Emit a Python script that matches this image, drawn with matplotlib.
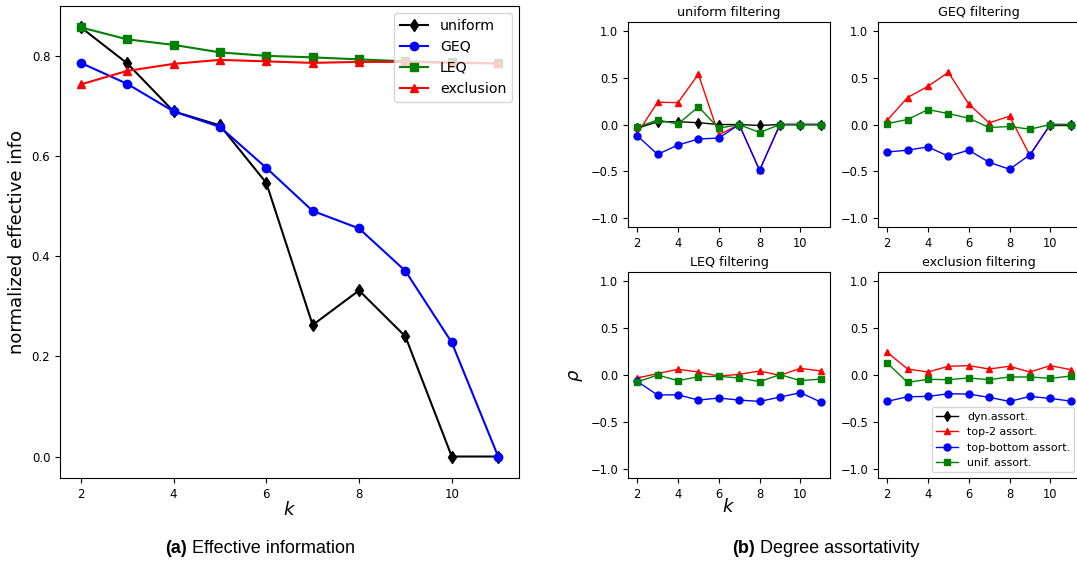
import matplotlib.pyplot as plt
import numpy as np

nan = np.nan
k = [2, 3, 4, 5, 6, 7, 8, 9, 10, 11]

# effective information per filtering scheme
ei_uniform = [0.858, 0.786, 0.690, 0.662, 0.547, 0.263, 0.332, 0.240, 0.0, 0.0]
ei_geq = [0.787, 0.745, 0.690, 0.659, 0.577, 0.491, 0.456, 0.371, 0.228, 0.0]
ei_leq = [0.858, 0.834, 0.823, 0.808, 0.801, 0.798, 0.794, 0.790, 0.788, 0.786]
ei_exclusion = [0.744, 0.771, 0.785, 0.793, 0.790, 0.787, 0.789, 0.789, 0.787, 0.786]

# degree assortativity, one dict per filtering scheme
assort_uniform = {
    "dyn": [-0.04, 0.03, 0.03, 0.02, 0.0, 0.0, -0.01, 0.0, 0.0, 0.0],
    "top2": [-0.10, 0.24, 0.235, 0.54, -0.11, 0.0, -0.49, 0.0, 0.0, 0.0],
    "topbottom": [-0.12, -0.32, -0.22, -0.155, -0.145, 0.0, -0.49, 0.0, 0.0, 0.0],
    "unif": [-0.03, 0.05, 0.005, 0.19, -0.04, 0.0, -0.086, 0.0, 0.0, 0.0],
}
assort_geq = {
    "dyn": [nan, nan, nan, nan, nan, nan, nan, nan, 0.0, 0.0],
    "top2": [0.045, 0.29, 0.41, 0.56, 0.22, 0.018, 0.09, -0.33, 0.0, 0.0],
    "topbottom": [-0.295, -0.275, -0.24, -0.34, -0.275, -0.405, -0.48, -0.325, 0.0, 0.0],
    "unif": [0.01, 0.054, 0.16, 0.118, 0.068, -0.032, -0.021, -0.05, 0.0, 0.0],
}
assort_leq = {
    "dyn": [nan] * 10,
    "top2": [-0.032, 0.015, 0.061, 0.032, -0.011, 0.007, 0.043, -0.004, 0.071, 0.043],
    "topbottom": [-0.068, -0.214, -0.211, -0.268, -0.246, -0.268, -0.282, -0.236, -0.189, -0.289],
    "unif": [-0.075, 0.0, -0.061, -0.018, -0.014, -0.032, -0.071, 0.004, -0.061, -0.043],
}
assort_exclusion = {
    "dyn": [nan] * 10,
    "top2": [0.243, 0.064, 0.032, 0.093, 0.10, 0.064, 0.093, 0.032, 0.10, 0.057],
    "topbottom": [-0.282, -0.232, -0.229, -0.20, -0.204, -0.239, -0.282, -0.229, -0.25, -0.279],
    "unif": [0.129, -0.079, -0.046, -0.05, -0.032, -0.05, -0.021, -0.021, -0.036, -0.011],
}

fig = plt.figure(figsize=(10.77, 5.62), dpi=100)

# (a) effective information
ax = fig.add_axes([0.0557, 0.1495, 0.4262, 0.840])
ax.plot(k, ei_uniform, "kd-", label="uniform")
ax.plot(k, ei_geq, "bo-", label="GEQ")
ax.plot(k, ei_leq, "gs-", label="LEQ")
ax.plot(k, ei_exclusion, "r^-", label="exclusion")
ax.set_xticks([2, 4, 6, 8, 10])
ax.set_yticks([0.0, 0.2, 0.4, 0.6, 0.8])
ax.tick_params(labelsize=8.5)
ax.set_xlabel("$k$", fontsize=13, labelpad=0)
ax.set_ylabel("normalized effective info", fontsize=13)
ax.legend(loc="upper right", fontsize=10.2)

# (b) degree assortativity
panels = [
    ("uniform filtering", assort_uniform, [0.5831, 0.596, 0.1875, 0.3648]),
    ("GEQ filtering", assort_geq, [0.8152, 0.596, 0.1875, 0.3648]),
    ("LEQ filtering", assort_leq, [0.5831, 0.1495, 0.1875, 0.3665]),
    ("exclusion filtering", assort_exclusion, [0.8152, 0.1495, 0.1875, 0.3665]),
]
for i, (title, d, rect) in enumerate(panels):
    a = fig.add_axes(rect)
    a.plot(k, d["dyn"], "kd-", ms=5, lw=1, label="dyn.assort.")
    a.plot(k, d["top2"], "r^-", ms=5, lw=1, label="top-2 assort.")
    a.plot(k, d["topbottom"], "bo-", ms=5, lw=1, label="top-bottom assort.")
    a.plot(k, d["unif"], "gs-", ms=5, lw=1, label="unif. assort.")
    a.set_xlim(1.55, 11.45)
    a.set_ylim(-1.1, 1.1)
    a.set_xticks([2, 4, 6, 8, 10])
    a.set_yticks([-1.0, -0.5, 0.0, 0.5, 1.0])
    a.tick_params(labelsize=8.3)
    a.set_title(title, fontsize=9.2, pad=4)
    if i == 2:
        a.set_xlabel("$k$", fontsize=13, labelpad=-2)
        a.set_ylabel(r"$\rho$", fontsize=13)
    if i == 3:
        a.legend(loc="lower right", fontsize=7.9)

# captions
cap_font = ["Liberation Sans Narrow", "Liberation Sans", "DejaVu Sans"]
ta = fig.text(0.153, 0.016, "(a)", fontsize=13, weight="bold", family=cap_font)
ax.annotate(" Effective information", xy=(1, 0), xycoords=ta, va="bottom",
            fontsize=13, family=cap_font, annotation_clip=False)
tb = fig.text(0.680, 0.016, "(b)", fontsize=13, weight="bold", family=cap_font)
ax.annotate(" Degree assortativity", xy=(1, 0), xycoords=tb, va="bottom",
            fontsize=13, family=cap_font, annotation_clip=False)

plt.savefig("out.png", dpi=100)
